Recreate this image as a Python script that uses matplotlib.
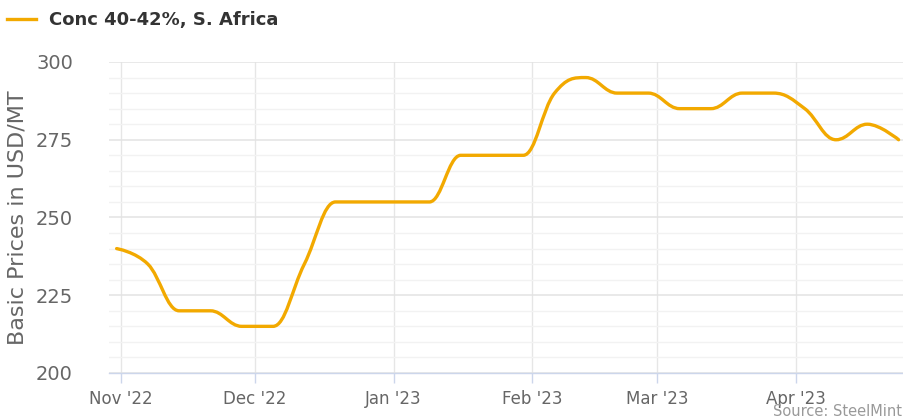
import datetime as dt
import matplotlib
matplotlib.use("Agg")
import matplotlib.pyplot as plt
import matplotlib.dates as mdates
from matplotlib.path import Path
from matplotlib.patches import PathPatch
from matplotlib.lines import Line2D
from matplotlib.ticker import MultipleLocator

# dados (semanal, segundas-feiras)
serie = "Conc 40-42%, S. Africa"
datas = ["2022-10-31", "2022-11-07", "2022-11-14", "2022-11-21", "2022-11-28",
         "2022-12-05", "2022-12-12", "2022-12-19", "2022-12-26", "2023-01-02",
         "2023-01-09", "2023-01-16", "2023-01-23", "2023-01-30", "2023-02-06",
         "2023-02-13", "2023-02-20", "2023-02-27", "2023-03-06", "2023-03-13",
         "2023-03-20", "2023-03-27", "2023-04-03", "2023-04-10", "2023-04-17",
         "2023-04-24"]
precos = [240, 235, 220, 220, 215, 215, 235, 255, 255, 255, 255, 270, 270,
          270, 290, 295, 290, 290, 285, 285, 290, 290, 285, 275, 280, 275]

cor = "#f2a900"
cinza = "#666666"


def caminho_spline(xs, ys, smoothing=1.5):
    # curva no estilo spline do Highcharts (bezier cúbica entre os pontos)
    n = len(xs)
    den = smoothing + 1
    lc = [None] * n
    rc = [None] * n
    for i in range(1, n - 1):
        x, y = xs[i], ys[i]
        lx, ly = xs[i - 1], ys[i - 1]
        nx, ny = xs[i + 1], ys[i + 1]
        lcx = (smoothing * x + lx) / den
        lcy = (smoothing * y + ly) / den
        rcx = (smoothing * x + nx) / den
        rcy = (smoothing * y + ny) / den
        if rcx != lcx:
            corr = (rcy - lcy) * (rcx - x) / (rcx - lcx) + y - rcy
            lcy += corr
            rcy += corr
            if lcy > ly and lcy > y:
                lcy = max(ly, y); rcy = 2 * y - lcy
            elif lcy < ly and lcy < y:
                lcy = min(ly, y); rcy = 2 * y - lcy
            if rcy > ny and rcy > y:
                rcy = max(ny, y); lcy = 2 * y - rcy
            elif rcy < ny and rcy < y:
                rcy = min(ny, y); lcy = 2 * y - rcy
        lc[i] = (lcx, lcy)
        rc[i] = (rcx, rcy)
    verts = [(xs[0], ys[0])]
    codes = [Path.MOVETO]
    for i in range(1, n):
        p0 = rc[i - 1] if rc[i - 1] else (xs[i - 1], ys[i - 1])
        p1 = lc[i] if lc[i] else (xs[i], ys[i])
        verts += [p0, p1, (xs[i], ys[i])]
        codes += [Path.CURVE4] * 3
    return Path(verts, codes)


x = [mdates.date2num(dt.datetime.strptime(d, "%Y-%m-%d")) for d in datas]

fig = plt.figure(figsize=(9.04, 4.2), dpi=100)
ax = fig.add_axes([109 / 904, 47 / 420, 795 / 904, 311 / 420])

ax.add_patch(PathPatch(caminho_spline(x, precos), fill=False, edgecolor=cor,
                       lw=2.4, capstyle="round", joinstyle="round", zorder=3))

ax.set_xlim(mdates.date2num(dt.datetime(2022, 10, 29, 7)),
            mdates.date2num(dt.datetime(2023, 4, 25, 5)))
ax.set_ylim(200, 300)

ax.yaxis.set_major_locator(MultipleLocator(25))
ax.yaxis.set_minor_locator(MultipleLocator(5))
ax.xaxis.set_major_locator(mdates.MonthLocator())
ax.xaxis.set_major_formatter(mdates.DateFormatter("%b '%y"))

ax.grid(axis="y", which="major", color="#e3e3e3", lw=1.1)
ax.grid(axis="y", which="minor", color="#f2f2f2", lw=1.0)
ax.grid(axis="x", which="major", color="#e6e6e6", lw=1.0)
ax.set_axisbelow(True)

for s in ["top", "right", "left"]:
    ax.spines[s].set_visible(False)
ax.spines["bottom"].set_color("#ccd6eb")
ax.spines["bottom"].set_linewidth(1.0)

ax.tick_params(axis="y", which="both", length=0, pad=26, labelsize=14,
               labelcolor=cinza)
ax.tick_params(axis="x", length=7, width=1, color="#ccd6eb", pad=5,
               labelsize=12, labelcolor=cinza)

ax.set_ylabel("Basic Prices in USD/MT", fontsize=16, color=cinza)
ax.yaxis.set_label_coords(-81 / 795, 0.5)

legenda = Line2D([], [], color=cor, lw=2.4)
fig.legend(handles=[legenda], labels=[serie], loc="center left",
           bbox_to_anchor=(7 / 904, 1 - 20 / 420), frameon=False,
           borderpad=0, borderaxespad=0, handlelength=1.6, handletextpad=0.7,
           prop={"size": 13, "weight": "bold"}, labelcolor="#333333")

fig.text(902 / 904, 1 - 411 / 420, "Source: SteelMint", ha="right",
         va="center", fontsize=10.5, color="#999999")

fig.savefig("out.png", dpi=100)
